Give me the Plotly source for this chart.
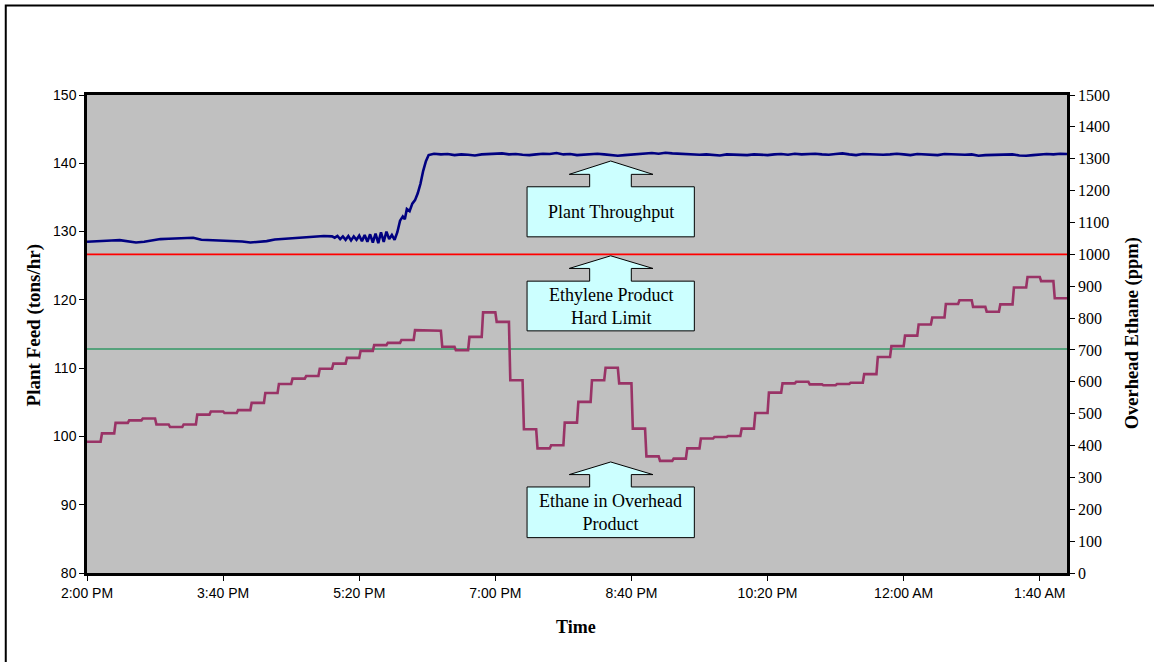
import plotly.graph_objects as go

# ---- time axis: minutes after 2:00 PM ----
tick_minutes = [0, 100, 200, 300, 400, 500, 600, 700]
tick_labels = ["2:00 PM", "3:40 PM", "5:20 PM", "7:00 PM", "8:40 PM",
               "10:20 PM", "12:00 AM", "1:40 AM"]

# ---- plant throughput (tons/hr), left axis ----
feed_minutes_early = [0, 6, 12, 18, 24, 30, 36, 42, 48, 54, 60, 66, 72, 78, 84, 90,
                      96, 102, 108, 114, 120, 126, 132, 138, 144, 150, 156, 162,
                      168, 174, 180,
                      182, 184, 186, 188, 190, 192, 194, 196, 198, 200, 202, 204,
                      206, 208, 210, 212, 214, 216, 218, 220, 222, 224, 226, 228,
                      230, 232, 233.5, 235, 237, 239, 241, 243, 245, 247, 249, 251]
feed_tph_early = [128.5, 128.6, 128.6, 128.7, 128.75, 128.55, 128.4, 128.5, 128.7,
                  128.9, 128.95, 129.0, 129.05, 129.1, 128.8, 128.75, 128.8, 128.7,
                  128.65, 128.55, 128.4, 128.5, 128.6, 128.85, 128.95, 129.0, 129.1,
                  129.15, 129.3, 129.35, 129.3,
                  129.1, 129.35, 128.9, 129.3, 128.8, 129.35, 128.7, 129.3, 128.8,
                  129.4, 128.6, 129.5, 128.5, 129.6, 128.4, 129.7, 128.3, 129.9,
                  128.5, 130.0, 128.9, 129.5, 128.8, 129.9,
                  131.6, 132.2, 131.8, 133.3, 133.0, 134.1, 134.6, 135.6, 137.0,
                  138.9, 140.3, 141.2]
feed_minutes_late = list(range(255, 721, 5))
feed_tph_late = [
    141.4, 141.3, 141.35, 141.2, 141.3, 141.25, 141.15, 141.3, 141.35, 141.3,
    141.45, 141.3, 141.35, 141.25, 141.2, 141.3, 141.4, 141.35, 141.5, 141.3,
    141.35, 141.2, 141.3, 141.35, 141.4, 141.3, 141.2, 141.1, 141.2, 141.3,
    141.35, 141.45, 141.5, 141.4, 141.55, 141.45, 141.4, 141.3, 141.35, 141.25,
    141.3, 141.2, 141.15, 141.3, 141.25, 141.3, 141.2, 141.3, 141.25, 141.2,
    141.3, 141.35, 141.25, 141.4, 141.3, 141.35, 141.4, 141.3, 141.25, 141.35,
    141.45, 141.3, 141.2, 141.35, 141.3, 141.35, 141.25, 141.3, 141.4, 141.3,
    141.2, 141.35, 141.3, 141.15, 141.2, 141.35, 141.3, 141.2, 141.25, 141.3,
    141.1, 141.2, 141.25, 141.3, 141.35, 141.3, 141.15, 141.1, 141.2, 141.3,
    141.35, 141.3, 141.4, 141.35]

# ---- ethane in overhead product (ppm), right axis, analyser updates every 10 min ----
ethane_minutes = [0] + list(range(11, 712, 10))
ethane_ppm = [412, 438, 471, 479, 485, 466, 458, 466, 497, 507,
              502, 511, 534, 565, 593, 610, 618, 641, 657, 675,
              697, 715, 722, 731, 762, 760, 710, 699, 741, 818,
              788, 605, 451, 391, 401, 472, 537, 605, 644, 595,
              453, 366, 352, 359, 391, 422, 427, 430, 453, 502,
              566, 595, 600, 592, 589, 593, 597, 624, 678, 712,
              745, 780, 802, 844, 856, 835, 820, 843, 896, 929,
              916, 862]

hard_limit_ppm = 1000
target_ppm = 703

SERIF = "Liberation Serif, Times New Roman, serif"
SANS = "Liberation Sans, Arial, sans-serif"

# each analyser value is held until one minute before the next reading,
# then the trend line ramps to the new value
step_x, step_y = [], []
ends = ethane_minutes[1:] + [721]
for start, nxt, val in zip(ethane_minutes, ends, ethane_ppm):
    step_x += [start, nxt - 1]
    step_y += [val, val]

fig = go.Figure()

fig.add_trace(go.Scatter(
    x=[0, 720], y=[hard_limit_ppm, hard_limit_ppm], yaxis="y2",
    mode="lines", line=dict(color="#FF0000", width=1.6), hoverinfo="skip"))
fig.add_trace(go.Scatter(
    x=[0, 720], y=[target_ppm, target_ppm], yaxis="y2",
    mode="lines", line=dict(color="#339966", width=1.6), hoverinfo="skip"))

fig.add_trace(go.Scatter(
    x=step_x, y=step_y, yaxis="y2",
    mode="lines", line=dict(color="#993366", width=2.6)))

fig.add_trace(go.Scatter(
    x=feed_minutes_early + feed_minutes_late,
    y=feed_tph_early + feed_tph_late,
    mode="lines", line=dict(color="#000080", width=2.6)))

# ---- block-arrow callouts (data coordinates: minutes, tons/hr) ----
def callout(apex, base, top, bottom, text):
    xl, xr = 323.3, 446.2
    xc = (xl + xr) / 2
    hl, hr = 354.3, 415.8
    sl, sr = 369.3, 399.9
    path = (f"M {xl},{bottom} L {xl},{top} L {sl},{top} L {sl},{base} "
            f"L {hl},{base} L {xc},{apex} L {hr},{base} L {sr},{base} "
            f"L {sr},{top} L {xr},{top} L {xr},{bottom} Z")
    fig.add_shape(type="path", path=path, xref="x", yref="y",
                  fillcolor="#CCFFFF", line=dict(color="black", width=1))
    fig.add_annotation(x=xc, y=(top + bottom) / 2, xref="x", yref="y",
                       text=text, showarrow=False,
                       xanchor="center", yanchor="middle",
                       font=dict(family=SERIF, size=18, color="black"))

callout(140.33, 138.38, 136.56, 129.23, "Plant Throughput")
callout(126.45, 124.60, 122.74, 115.46, "Ethylene Product<br>Hard Limit")
callout(96.26, 94.41, 92.60, 85.18, "Ethane in Overhead<br>Product")

# outer frame
fig.add_shape(type="rect", xref="paper", yref="paper",
              x0=-0.0829, x1=1.2, y0=-0.3, y1=1.1874,
              line=dict(color="black", width=2), fillcolor="rgba(0,0,0,0)",
              layer="above")

# axis titles
fig.add_annotation(x=-0.0538, y=0.5185, xref="paper", yref="paper",
                   xanchor="center", yanchor="middle",
                   text="<b>Plant Feed (tons/hr)</b>", textangle=-90,
                   showarrow=False, font=dict(family=SERIF, size=19, color="black"))
fig.add_annotation(x=1.0666, y=0.502, xref="paper", yref="paper",
                   xanchor="center", yanchor="middle",
                   text="<b>Overhead Ethane (ppm)</b>", textangle=-90,
                   showarrow=False, font=dict(family=SERIF, size=18.5, color="black"))
fig.add_annotation(x=0.4988, y=-0.1137, xref="paper", yref="paper",
                   xanchor="center", yanchor="middle",
                   text="<b>Time</b>", showarrow=False,
                   font=dict(family=SERIF, size=18, color="black"))

fig.update_layout(
    width=1154, height=662,
    margin=dict(l=87, r=87, t=95, b=89),
    paper_bgcolor="white", plot_bgcolor="#C0C0C0",
    showlegend=False,
    xaxis=dict(range=[0, 720], tickvals=tick_minutes, ticktext=tick_labels,
               showgrid=False, zeroline=False,
               showline=True, linecolor="black", linewidth=2.5, mirror=True,
               ticks="outside", ticklen=5, tickcolor="black", tickwidth=1,
               tickfont=dict(family=SANS, size=14, color="black")),
    yaxis=dict(range=[80, 150], dtick=10, showgrid=False, zeroline=False,
               showline=True, linecolor="black", linewidth=2.5,
               ticks="outside", ticklen=5, tickcolor="black", tickwidth=1,
               tickfont=dict(family=SANS, size=14, color="black")),
    yaxis2=dict(range=[0, 1500], dtick=100, overlaying="y", side="right",
                showgrid=False, zeroline=False,
                showline=True, linecolor="black", linewidth=2.5,
                ticks="outside", ticklen=5, tickcolor="black", tickwidth=1,
                tickfont=dict(family=SERIF, size=16, color="black")),
)

fig.write_html("out.html")
